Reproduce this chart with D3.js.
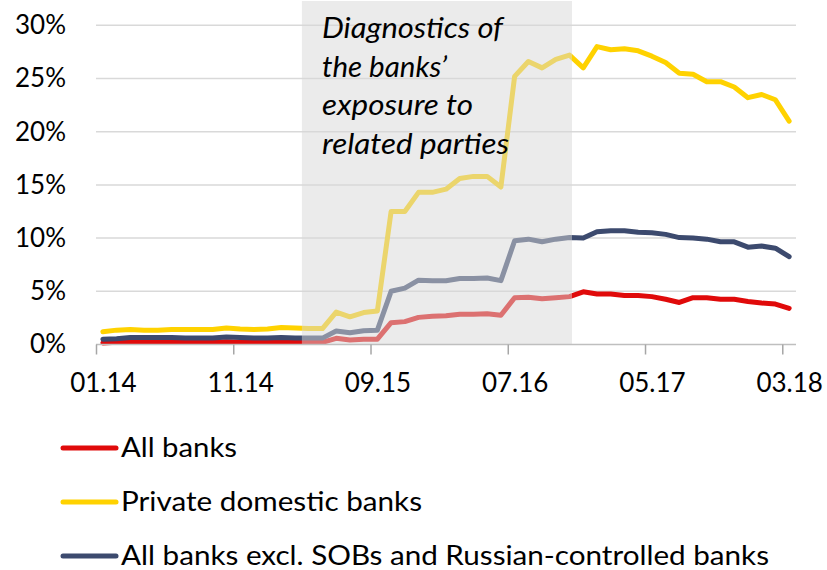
<!DOCTYPE html>
<html>
<head>
<meta charset="utf-8">
<script src="https://cdn.jsdelivr.net/npm/d3@7"></script>
<style>
  html, body { margin: 0; padding: 0; background: #fff; }
  svg { display: block; font-family: Lato, "Open Sans", sans-serif; }
</style>
</head>
<body>
<svg id="chart" width="827" height="570"></svg>
<script>
// Monthly observations, 01.2014 – 03.2018
const months = [
  "01.14","02.14","03.14","04.14","05.14","06.14","07.14","08.14","09.14","10.14","11.14","12.14",
  "01.15","02.15","03.15","04.15","05.15","06.15","07.15","08.15","09.15","10.15","11.15","12.15",
  "01.16","02.16","03.16","04.16","05.16","06.16","07.16","08.16","09.16","10.16","11.16","12.16",
  "01.17","02.17","03.17","04.17","05.17","06.17","07.17","08.17","09.17","10.17","11.17","12.17",
  "01.18","02.18","03.18"
];

// Share of exposure to related parties, % of total
const allBanks = [
  0.15,0.2,0.2,0.2,0.2,0.2,0.2,0.2,0.2,0.25,0.22,0.2,0.2,0.2,0.2,0.2,0.2,
  0.58,0.42,0.5,0.5,2.05,2.15,2.55,2.65,2.7,2.85,2.85,2.9,2.75,4.4,4.45,4.3,4.4,4.5,
  4.95,4.75,4.75,4.6,4.6,4.5,4.25,3.95,4.4,4.4,4.25,4.25,4.05,3.9,3.8,3.4
];
const privateDomestic = [
  1.2,1.35,1.4,1.35,1.35,1.4,1.4,1.4,1.4,1.55,1.45,1.4,1.45,1.6,1.55,1.5,1.5,
  3.05,2.6,3.0,3.15,12.5,12.5,14.3,14.3,14.6,15.6,15.8,15.8,14.8,25.2,26.6,26.0,26.8,27.2,
  26.0,28.0,27.7,27.8,27.6,27.1,26.5,25.5,25.4,24.7,24.7,24.2,23.2,23.5,23.0,21.0
];
const exclSOBsRussian = [
  0.5,0.55,0.65,0.65,0.65,0.65,0.6,0.6,0.6,0.7,0.65,0.6,0.6,0.65,0.6,0.6,0.6,
  1.27,1.1,1.3,1.35,5.0,5.3,6.05,6.0,6.0,6.2,6.2,6.25,6.0,9.75,9.9,9.65,9.9,10.05,
  10.0,10.6,10.7,10.7,10.55,10.5,10.35,10.05,10.0,9.9,9.65,9.65,9.15,9.25,9.05,8.25
];

const seriesNames = [
  "All banks",
  "Private domestic banks",
  "All banks excl. SOBs and Russian-controlled banks"
];
const seriesColors = ["#E00A0A", "#FFD200", "#3C4A6E"];

const xTickLabels = ["01.14","11.14","09.15","07.16","05.17","03.18"];
const yTicks = [0, 5, 10, 15, 20, 25, 30];

// Diagnostics period, in month-index units (from start of 04.15 into 11.16)
const shadeRange = [14.5, 34.18];
const noteLines = ["Diagnostics of", "the banks\u2019", "exposure to", "related parties"];

const svg = d3.select("#chart");
const plotLeft = 96, plotRight = 796, plotTop = 25.3, plotBottom = 344.5;

const x = d3.scalePoint().domain(months).range([plotLeft, plotRight]).padding(0.5);
const xi = d3.scaleLinear().domain([-0.5, months.length - 0.5]).range([plotLeft, plotRight]);
const y = d3.scaleLinear().domain([0, 30]).range([plotBottom, plotTop]);
const step = x.step();

// gridlines
svg.append("g")
  .selectAll("line")
  .data(yTicks.filter(d => d > 0))
  .join("line")
  .attr("x1", plotLeft).attr("x2", plotRight)
  .attr("y1", d => y(d)).attr("y2", d => y(d))
  .attr("stroke", "#D9D9D9").attr("stroke-width", 1.5);

// y axis labels
const yAxis = svg.append("g")
  .attr("transform", `translate(${plotLeft},0)`)
  .call(d3.axisLeft(y).tickValues(yTicks).tickFormat(d => d + "%").tickSize(0).tickPadding(30));
yAxis.select(".domain").remove();
yAxis.selectAll("text")
  .attr("font-size", 26).attr("fill", "#000")
  .attr("font-family", "Lato, 'Open Sans', sans-serif");

// series lines
const data = [allBanks, privateDomestic, exclSOBsRussian];
const line = d3.line()
  .x((d, i) => x(months[i]))
  .y(d => y(d));

svg.append("g")
  .selectAll("path")
  .data(data)
  .join("path")
  .attr("d", line)
  .attr("fill", "none")
  .attr("stroke", (d, i) => seriesColors[i])
  .attr("stroke-width", 5)
  .attr("stroke-linejoin", "round")
  .attr("stroke-linecap", "round");

// translucent band over the diagnostics period
svg.append("rect")
  .attr("x", xi(shadeRange[0]))
  .attr("y", 1)
  .attr("width", xi(shadeRange[1]) - xi(shadeRange[0]))
  .attr("height", plotBottom - 1)
  .attr("fill", "rgb(215,215,215)")
  .attr("fill-opacity", 0.5);

// x axis: baseline, ticks on category boundaries, labels centred on categories
svg.append("line")
  .attr("x1", plotLeft).attr("x2", plotRight)
  .attr("y1", plotBottom).attr("y2", plotBottom)
  .attr("stroke", "#BFBFBF").attr("stroke-width", 1.5);

const xAxis = svg.append("g")
  .attr("transform", `translate(0,${plotBottom})`)
  .call(d3.axisBottom(x).tickValues(xTickLabels).tickSize(0).tickPadding(29));
xAxis.select(".domain").remove();
xAxis.selectAll("text")
  .attr("font-size", 26).attr("fill", "#000")
  .attr("font-family", "Lato, 'Open Sans', sans-serif");
xAxis.selectAll(".tick").append("line")
  .attr("x1", -step / 2).attr("x2", -step / 2)
  .attr("y1", 0).attr("y2", 10)
  .attr("stroke", "#A6A6A6").attr("stroke-width", 1.5);

// annotation
const noteWidths = [181, 125, 151, 187];
svg.append("g")
  .selectAll("text")
  .data(noteLines)
  .join("text")
  .attr("x", 322)
  .attr("y", (d, i) => 38.3 + i * 38.4)
  .attr("font-size", 28)
  .attr("font-style", "italic")
  .attr("fill", "#000")
  .attr("textLength", (d, i) => noteWidths[i])
  .attr("lengthAdjust", "spacingAndGlyphs")
  .text(d => d);

// legend
const legendWidths = [116, 301, 648];
const legend = svg.append("g")
  .selectAll("g")
  .data(seriesNames)
  .join("g")
  .attr("transform", (d, i) => `translate(0,${448 + i * 54})`);
legend.append("line")
  .attr("x1", 63).attr("x2", 116)
  .attr("stroke", (d, i) => seriesColors[i])
  .attr("stroke-width", 5)
  .attr("stroke-linecap", "round");
legend.append("text")
  .attr("x", 121).attr("y", 8.5)
  .attr("font-size", 26)
  .attr("fill", "#000")
  .attr("textLength", (d, i) => legendWidths[i])
  .attr("lengthAdjust", "spacingAndGlyphs")
  .text(d => d);
</script>
</body>
</html>
